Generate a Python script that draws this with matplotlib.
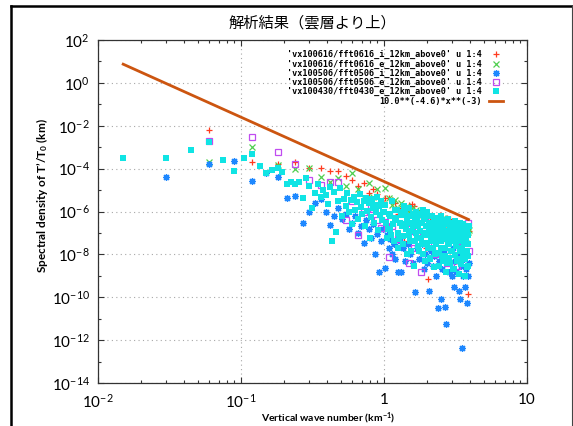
import matplotlib
matplotlib.use('Agg')
import matplotlib.pyplot as plt
from matplotlib.lines import Line2D
from matplotlib.ticker import FixedLocator, FixedFormatter, NullFormatter
import numpy as np

plt.rcParams['font.family'] = ['Lato', 'DejaVu Sans']
plt.rcParams['mathtext.fontset'] = 'custom'
plt.rcParams['mathtext.rm'] = 'Lato'
plt.rcParams['mathtext.it'] = 'Lato:italic'
plt.rcParams['mathtext.bf'] = 'Lato:bold'
plt.rcParams['mathtext.default'] = 'regular'

title = "解析結果（雲層より上）"
xlabel = r"Vertical wave number (km$\mathbf{^{-1}}$)"
ylabel = r"Spectral density of T’/T$\mathbf{_0}$ (km)"
labels = ["'vx100616/fft0616_i_12km_above0' u 1:4",
          "'vx100616/fft0616_e_12km_above0' u 1:4",
          "'vx100506/fft0506_i_12km_above0' u 1:4",
          "'vx100506/fft0506_e_12km_above0' u 1:4",
          "'vx100430/fft0430_e_12km_above0' u 1:4",
          "10.0**(-4.6)*x**(-3)"]

# ---- series 1: 0616_i (red +)
x_0616i = [0.06, 0.12, 0.18, 0.24, 0.30, 0.36, 0.42, 0.48, 0.54, 0.60, 0.66, 0.72, 0.78, 0.84, 0.90,
           0.96, 1.02, 1.08, 1.14, 1.20, 1.26, 1.32, 1.38, 1.44, 1.50, 1.56, 1.62, 1.68, 1.74, 1.80,
           1.86, 1.92, 1.98, 2.04, 2.10, 2.16, 2.22, 2.28, 2.34, 2.40, 2.46, 2.52, 2.58, 2.64, 2.70,
           2.76, 2.82, 2.88, 2.94, 3.00, 3.06, 3.12, 3.18, 3.24, 3.30, 3.36, 3.42, 3.48, 3.54, 3.60,
           3.66, 3.72, 3.78, 3.84, 3.90]
y_0616i = [6.3e-3, 2.0e-4, 1.6e-4, 2.0e-4, 1.1e-4, 1.1e-4, 7.8e-5, 7.8e-5, 4.6e-5, 3.0e-5, 1.5e-5, 2.2e-5, 7.2e-6, 1.1e-5, 6.6e-6,
           3.0e-6, 4.3e-6, 4.3e-6, 3.5e-6, 2.5e-6, 8.0e-7, 1.5e-6, 4.0e-8, 1.2e-6, 2.0e-6, 2.2e-6, 1.8e-6, 3.0e-7, 9.0e-7, 1.0e-7,
           6.0e-7, 8.0e-7, 2.0e-8, 7.0e-10, 5.0e-7, 6.0e-7, 3.0e-7, 1.5e-8, 4.0e-7, 2.0e-7, 7.0e-7, 5.5e-7, 1.0e-7, 3.5e-7, 4.0e-8,
           5.0e-7, 2.0e-7, 4.5e-7, 8.0e-8, 3.0e-7, 1.5e-7, 2.9e-7, 5.0e-9, 2.5e-7, 1.2e-7, 3.0e-7, 6.0e-8, 2.0e-7, 1.0e-7, 1.5e-7,
           2.2e-7, 9.0e-8, 1.8e-7, 1.4e-10, 1.2e-7]

# ---- series 2: 0616_e (green x)
x_0616e = list(x_0616i)
y_0616e = [2.0e-4, 1.0e-3, 1.5e-4, 9.5e-5, 1.1e-4, 4.0e-5, 2.4e-5, 3.6e-5, 1.5e-5, 6.3e-5, 1.1e-5, 4.3e-6, 2.1e-5, 5.0e-6, 1.1e-5,
           3.5e-6, 1.3e-5, 4.3e-6, 2.0e-6, 3.5e-6, 1.5e-6, 2.5e-6, 8.0e-7, 1.8e-6, 1.0e-6, 1.4e-6, 5.0e-7, 1.2e-6, 7.0e-7, 1.0e-6,
           8.5e-7, 4.0e-7, 7.0e-7, 3.0e-7, 6.0e-7, 2.0e-7, 5.0e-7, 3.5e-7, 4.5e-7, 4.0e-7, 1.5e-7, 3.0e-7, 5.0e-7, 2.5e-7, 1.0e-7,
           3.5e-7, 2.0e-7, 3.0e-7, 1.2e-7, 2.3e-7, 2.8e-7, 1.5e-7, 2.0e-7, 8.0e-8, 1.8e-7, 2.2e-7, 1.7e-7, 1.0e-7, 2.0e-7, 1.3e-7,
           1.4e-7, 6.0e-8, 1.6e-7, 1.1e-7, 1.4e-7]

# ---- series 3: 0506_i (blue asterisk)
x_0506i = [0.03, 0.06, 0.09, 0.12, 0.15, 0.18, 0.21, 0.24, 0.27, 0.30, 0.33, 0.36, 0.39, 0.42, 0.45,
           0.48, 0.51, 0.54, 0.57, 0.60, 0.63, 0.66, 0.69, 0.72, 0.75, 0.78, 0.81, 0.84, 0.87, 0.90,
           0.93, 0.96, 0.99, 1.02, 1.05, 1.08, 1.11, 1.14, 1.17, 1.20, 1.26, 1.29, 1.32, 1.35, 1.41,
           1.47, 1.53, 1.59, 1.65, 1.71, 1.77, 1.83, 1.89, 1.95, 2.01, 2.07, 2.13, 2.19, 2.25, 2.31,
           2.37, 2.43, 2.49, 2.55, 2.61, 2.67, 2.73, 2.79, 2.85, 2.91, 2.97, 3.03, 3.09, 3.15, 3.21,
           3.27, 3.33, 3.39, 3.45, 3.51, 3.57, 3.63, 3.69, 3.75, 3.81, 3.87, 3.90]
y_0506i = [4.1e-5, 1.7e-4, 2.3e-4, 2.6e-5, 6.0e-5, 4.1e-5, 4.3e-6, 5.2e-6, 2.9e-7, 1.0e-6, 2.5e-6, 3.8e-6, 1.0e-6, 2.3e-7, 6.0e-7,
           1.5e-6, 4.5e-7, 8.0e-7, 1.5e-7, 3.0e-7, 6.0e-7, 1.0e-7, 2.0e-7, 3.4e-8, 4.0e-7, 1.5e-7, 6.0e-8, 2.5e-7, 1.0e-8, 9.0e-8,
           1.5e-9, 4.0e-8, 1.5e-7, 2.3e-9, 8.0e-8, 2.0e-8, 5.0e-8, 1.0e-8, 3.0e-8, 6.0e-9, 1.5e-9, 4.0e-8, 1.5e-9, 2.0e-8, 5.0e-9,
           3.0e-8, 1.0e-8, 4.0e-9, 1.8e-10, 2.0e-8, 6.0e-9, 3.0e-8, 2.0e-9, 1.0e-8, 4.0e-9, 1.9e-10, 1.5e-8, 3.0e-9, 8.0e-9, 1.0e-9,
           3.2e-11, 5.0e-9, 8.3e-11, 2.0e-9, 1.2e-8, 3.5e-11, 5.6e-12, 6.0e-9, 1.5e-9, 4.0e-9, 1.0e-9, 2.0e-8, 3.0e-10, 5.0e-9, 1.5e-9,
           8.0e-9, 2.0e-10, 8.3e-11, 3.0e-9, 4.4e-13, 1.0e-9, 6.0e-9, 3.0e-10, 2.0e-9, 5.4e-11, 1.0e-9, 4.0e-9]

# ---- series 4: 0506_e (magenta open square)
x_0506e = [0.06, 0.12, 0.18, 0.24, 0.30, 0.36, 0.42, 0.48, 0.54, 0.60, 0.66, 0.72, 0.81, 0.84, 0.90,
           0.96, 1.02, 1.08, 1.14, 1.20, 1.26, 1.38, 1.44, 1.50, 1.56, 1.62, 1.68, 1.80, 1.86, 1.92,
           2.04, 2.16, 2.28, 2.40, 2.52, 2.64, 2.76, 2.88, 3.00, 3.12, 3.24, 3.36, 3.48, 3.60, 3.72,
           3.84, 3.90]
y_0506e = [1.9e-3, 3.0e-3, 6.0e-4, 1.7e-4, 3.0e-5, 1.7e-5, 2.4e-5, 2.4e-5, 4.0e-7, 3.0e-6, 8.0e-8, 1.0e-6, 1.6e-6, 1.3e-6, 4.0e-7,
           1.7e-7, 6.0e-7, 7.6e-9, 2.0e-7, 8.5e-7, 5.0e-8, 1.0e-6, 3.0e-7, 4.0e-9, 1.2e-7, 2.0e-8, 4.0e-7, 1.5e-9, 1.0e-7, 5.0e-7,
           3.0e-8, 2.5e-7, 1.0e-8, 3.0e-7, 6.0e-8, 2.0e-7, 4.0e-9, 1.5e-7, 8.0e-8, 2.5e-7, 3.0e-9, 1.8e-7, 4.0e-8, 2.2e-7, 1.0e-7,
           3.0e-7, 1.5e-8]

# ---- series 5: 0430_e (cyan filled square)
x_0430e = [0.015, 0.030, 0.045, 0.060, 0.075, 0.090, 0.105, 0.120, 0.135, 0.150, 0.165, 0.180, 0.195, 0.210, 0.225,
           0.240, 0.255, 0.270, 0.285, 0.300, 0.315, 0.330, 0.345, 0.360, 0.375, 0.390, 0.405, 0.420, 0.435, 0.450,
           0.465, 0.480, 0.495, 0.510, 0.525, 0.540, 0.555, 0.570, 0.585, 0.600, 0.615, 0.630, 0.645, 0.660, 0.675,
           0.690, 0.705, 0.720, 0.735, 0.750, 0.765, 0.780, 0.795, 0.810, 0.825, 0.840, 0.855, 0.870, 0.885, 0.900,
           0.915, 0.930, 0.945, 0.960, 0.975, 0.990,
           1.02, 1.05, 1.08, 1.11, 1.14, 1.17, 1.20, 1.23, 1.26, 1.29, 1.32, 1.35, 1.38, 1.41, 1.44,
           1.47, 1.50, 1.53, 1.56, 1.59, 1.62, 1.65, 1.68, 1.71, 1.74, 1.77, 1.80, 1.83, 1.86, 1.89,
           1.92, 1.95, 1.98, 2.01, 2.04, 2.07, 2.10, 2.13, 2.16, 2.19, 2.22, 2.25, 2.28, 2.31, 2.34,
           2.37, 2.40, 2.43, 2.46, 2.49, 2.52, 2.55, 2.58, 2.61, 2.64, 2.67, 2.70, 2.73, 2.76, 2.79,
           2.82, 2.85, 2.88, 2.91, 2.94, 2.97, 3.00, 3.03, 3.06, 3.09, 3.12, 3.15, 3.18, 3.21, 3.24,
           3.27, 3.30, 3.33, 3.36, 3.39, 3.42, 3.45, 3.48, 3.51, 3.54, 3.57, 3.60, 3.63, 3.66, 3.69,
           3.72, 3.75, 3.78, 3.81, 3.84, 3.87, 3.90]
y_0430e = [3.2e-4, 3.2e-4, 7.4e-4, 1.7e-3, 2.5e-4, 7.8e-5, 3.2e-4, 4.8e-4, 1.3e-4, 6.3e-5, 8.7e-5, 1.1e-4, 6.9e-5, 1.9e-5, 2.4e-5,
           1.9e-5, 2.4e-5, 4.3e-6, 3.6e-5, 1.5e-5, 1.4e-6, 7.2e-6, 2.0e-5, 5.0e-6, 1.0e-5, 5.9e-6, 2.2e-6, 1.4e-5, 4.3e-8, 8.0e-6,
           1.1e-7, 3.0e-6, 1.2e-5, 6.0e-7, 4.0e-6, 1.8e-6, 7.0e-6, 9.0e-7, 3.5e-6, 2.5e-7, 5.0e-6, 1.2e-6, 2.8e-6, 4.5e-7, 6.5e-6,
           1.6e-6, 8.0e-7, 3.2e-6, 2.0e-7, 4.2e-6, 1.1e-6, 2.4e-6, 6.0e-8, 5.5e-7, 3.8e-6, 1.4e-6, 3.0e-7, 2.0e-6, 9.0e-7, 5.0e-6,
           1.3e-7, 1.8e-6, 7.0e-7, 3.0e-6, 4.0e-7, 1.0e-6,
           2.0e-6, 6.0e-8, 8.0e-7, 1.5e-7, 3.0e-6, 4.0e-8, 5.0e-7, 1.2e-6, 2.0e-8, 3.0e-7, 9.0e-7, 7.0e-8, 1.8e-6, 2.5e-7, 1.0e-8,
           6.0e-7, 1.5e-6, 4.0e-8, 1.2e-7, 8.0e-7, 3.0e-9, 4.0e-7, 1.0e-6, 6.0e-8, 2.0e-7, 1.5e-8, 7.0e-7, 3.0e-8, 1.2e-6, 1.0e-7,
           5.0e-9, 4.5e-7, 8.0e-8, 9.0e-7, 2.0e-8, 3.0e-7, 6.0e-9, 1.5e-7, 6.0e-7, 4.0e-8, 2.5e-9, 2.0e-7, 1.0e-8, 5.0e-7, 7.0e-8,
           1.2e-8, 3.5e-7, 3.0e-9, 9.0e-8, 6.0e-7, 2.0e-8, 1.5e-7, 5.0e-9, 4.0e-7, 5.0e-8, 8.0e-9, 2.5e-7, 1.5e-9, 1.2e-7, 3.0e-8,
           4.5e-7, 7.0e-9, 2.0e-7, 4.0e-9, 6.0e-8, 3.0e-7, 1.5e-8, 1.0e-7, 2.0e-9, 4.0e-8, 3.5e-7, 9.0e-9, 1.5e-7, 2.5e-8, 6.0e-9,
           2.0e-7, 5.0e-8, 1.2e-9, 1.2e-7, 1.5e-8, 3.0e-7, 3.5e-9, 8.0e-8, 2.0e-8, 2.5e-7, 6.0e-9, 1.0e-7, 4.0e-8, 1.0e-9, 2.0e-7,
           1.2e-8, 6.0e-8, 2.5e-9, 1.5e-7, 3.0e-8, 8.0e-9, 2.0e-7]
# remaining (odd-index) wave numbers of the 0430_e spectrum above 1 km^-1
x_0430e_b = [1.005, 1.035, 1.065, 1.095, 1.125, 1.155, 1.185, 1.215, 1.245, 1.275, 1.305, 1.335, 1.365, 1.395, 1.425,
             1.455, 1.485, 1.515, 1.545, 1.575, 1.605, 1.635, 1.665, 1.695, 1.725, 1.755, 1.785, 1.815, 1.845, 1.875,
             1.905, 1.935, 1.965, 1.995, 2.025, 2.055, 2.085, 2.115, 2.145, 2.175, 2.205, 2.235, 2.265, 2.295, 2.325,
             2.355, 2.385, 2.415, 2.445, 2.475, 2.505, 2.535, 2.565, 2.595, 2.625, 2.655, 2.685, 2.715, 2.745, 2.775,
             2.805, 2.835, 2.865, 2.895, 2.925, 2.955, 2.985, 3.015, 3.045, 3.075, 3.105, 3.135, 3.165, 3.195, 3.225,
             3.255, 3.285, 3.315, 3.345, 3.375, 3.405, 3.435, 3.465, 3.495, 3.525, 3.555, 3.585, 3.615, 3.645, 3.675,
             3.705, 3.735, 3.765, 3.795, 3.825, 3.855, 3.885]
y_0430e_b = [1.0e-6, 3.0e-7, 1.5e-7, 6.0e-7, 8.0e-8, 2.5e-7, 1.2e-6, 4.0e-7, 1.0e-7, 5.0e-8,
             7.0e-7, 2.0e-7, 3.0e-8, 9.0e-7, 1.5e-7, 5.0e-7, 8.0e-8, 3.0e-7, 1.5e-8, 6.0e-7,
             2.0e-7, 4.0e-8, 1.0e-7, 4.0e-7, 2.5e-8, 8.0e-7, 1.2e-7, 6.0e-8, 3.0e-7, 1.0e-8,
             5.0e-7, 9.0e-8, 2.0e-7, 3.5e-8, 6.0e-7, 1.5e-7, 7.0e-9, 3.0e-7, 5.0e-8, 1.0e-7,
             2.0e-8, 4.0e-7, 8.0e-8, 1.5e-7, 3.0e-8, 2.5e-7, 6.0e-8, 1.2e-8, 3.5e-7, 1.0e-7,
             4.0e-8, 2.0e-7, 8.0e-9, 1.5e-7, 5.0e-8, 3.0e-7, 2.0e-8, 1.0e-7, 6.0e-8, 4.0e-9,
             2.5e-7, 1.2e-7, 3.0e-8, 1.8e-7, 7.0e-8, 1.5e-8, 3.0e-7, 4.0e-8, 1.0e-7, 2.0e-9,
             2.0e-7, 6.0e-8, 2.5e-8, 1.5e-7, 9.0e-8, 5.0e-9, 2.5e-7, 4.0e-8, 1.2e-7, 1.5e-8,
             3.0e-7, 7.0e-8, 2.0e-8, 1.8e-7, 5.0e-8, 1.0e-8, 2.2e-7, 9.0e-8, 3.0e-8, 1.5e-7,
             6.0e-9, 1.0e-7, 4.0e-8, 2.0e-7, 1.5e-8, 8.0e-8, 3.0e-9]

# ---- fitted power law shown in legend: 10.0**(-4.6)*x**(-3)
fit_log_amp = -4.6
fit_slope = -3.0
fit_xrange = [0.015, 3.9]

xticks = [0.01, 0.1, 1, 10]
xticklabels = ['$10^{-2}$', '$10^{-1}$', '1', '10']
yticks = [1e2, 1e0, 1e-2, 1e-4, 1e-6, 1e-8, 1e-10, 1e-12, 1e-14]
yticklabels = ['$10^{2}$', '$10^{0}$', '$10^{-2}$', '$10^{-4}$', '$10^{-6}$', '$10^{-8}$',
               '$10^{-10}$', '$10^{-12}$', '$10^{-14}$']

W, H = 573, 426
fig = plt.figure(figsize=(W / 100, H / 100), dpi=100)
ax = fig.add_axes([98 / W, 1 - 383 / H, (527 - 98) / W, (383 - 40) / H])

ms = 5
ax.plot(x_0616i, y_0616i, ls='none', marker='+', ms=ms, mew=0.9, color='#ff3b1f', label=labels[0])
ax.plot(x_0616e, y_0616e, ls='none', marker='x', ms=ms * 0.85, mew=0.9, color='#4fcf4f', label=labels[1])
ax.plot(x_0506i, y_0506i, ls='none', marker=(8, 2, 0), ms=ms, mew=0.9, color='#1e88ff', label=labels[2])
ax.plot(x_0506e, y_0506e, ls='none', marker='s', ms=ms, mew=0.9, mfc='none', mec='#c04cf0', label=labels[3])
ax.plot(x_0430e + x_0430e_b, y_0430e + y_0430e_b, ls='none', marker='s', ms=ms, mew=0,
        color='#10e4e4', label=labels[4])

lx = np.logspace(np.log10(fit_xrange[0]), np.log10(fit_xrange[1]), 60)
ax.plot(lx, 10.0 ** fit_log_amp * lx ** fit_slope, color='#cc5510', lw=2.0, label=labels[5])

ax.set_xscale('log')
ax.set_yscale('log')
ax.set_xlim(1e-2, 10)
ax.set_ylim(1e-14, 1e2)

ax.xaxis.set_major_locator(FixedLocator(xticks))
ax.xaxis.set_major_formatter(FixedFormatter(xticklabels))
xminor = [m * 10.0 ** e for e in (-2, -1, 0) for m in range(2, 10)]
ax.xaxis.set_minor_locator(FixedLocator(xminor))
ax.xaxis.set_minor_formatter(NullFormatter())
ax.yaxis.set_major_locator(FixedLocator(yticks))
ax.yaxis.set_major_formatter(FixedFormatter(yticklabels))
ax.yaxis.set_minor_locator(FixedLocator([10.0 ** e for e in range(-13, 2, 2)]))
ax.yaxis.set_minor_formatter(NullFormatter())

ax.tick_params(which='both', direction='in', top=True, right=True, colors='#333333', labelcolor='black')
ax.tick_params(which='major', length=4, width=0.8, labelsize=11)
ax.tick_params(which='minor', length=2.5, width=0.8)
ax.tick_params(axis='x', pad=7)
ax.tick_params(axis='y', pad=6)
for s in ax.spines.values():
    s.set_color('#333333')
    s.set_linewidth(0.9)
ax.grid(True, which='major', ls=(0, (1, 3)), color='#a8a8a8', lw=0.8)

leg = ax.legend(loc='upper right', bbox_to_anchor=(507 / W, 1 - 46 / H), bbox_transform=fig.transFigure,
                frameon=False, markerfirst=False, borderpad=0, handlelength=1.6, handletextpad=0.9,
                labelspacing=0.02, prop={'family': 'DejaVu Sans Mono', 'weight': 'bold', 'size': 6.1})

fig.text(312 / W, 1 - 23 / H, title, ha='center', va='center', fontsize=11,
         family=['Noto Sans CJK JP', 'DejaVu Sans'])
fig.text(328 / W, 1 - 418 / H, xlabel, ha='center', va='center', fontsize=7.5, fontweight='bold')
fig.text(42 / W, 1 - 196 / H, ylabel, ha='center', va='center', fontsize=8.5, fontweight='bold', rotation=90)

# slide frame
fig.add_artist(Line2D([11 / W, 11 / W], [0, 1 - 6 / H], transform=fig.transFigure, color='black', lw=1.8))
fig.add_artist(Line2D([11 / W, 572 / W], [1 - 6 / H, 1 - 6 / H], transform=fig.transFigure, color='black', lw=1.8))
fig.add_artist(Line2D([572 / W, 572 / W], [0, 1 - 6 / H], transform=fig.transFigure, color='#444444', lw=0.8))

fig.savefig('out.png', dpi=100)
